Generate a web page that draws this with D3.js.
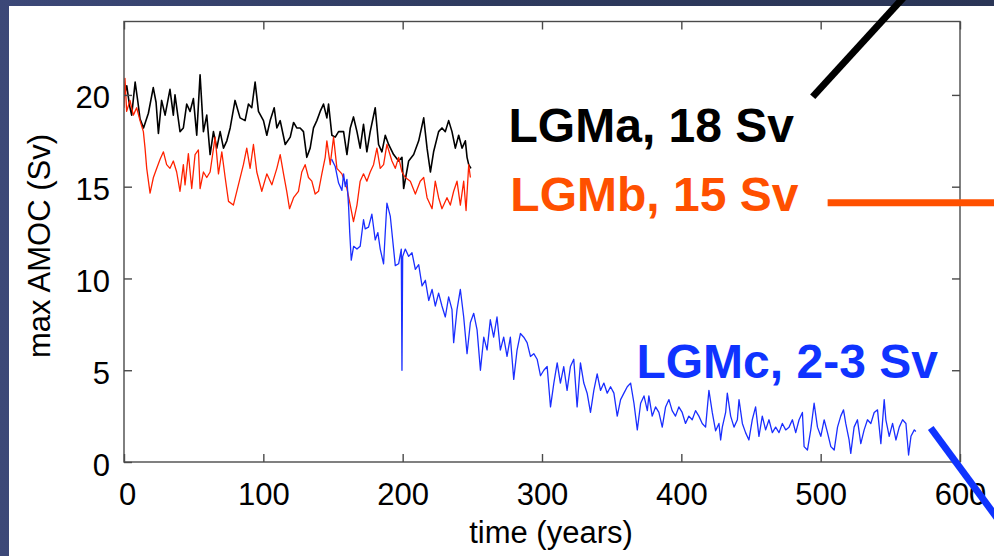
<!DOCTYPE html>
<html>
<head>
<meta charset="utf-8">
<script src="https://cdn.jsdelivr.net/npm/d3@7"></script>
<style>
  html, body { margin: 0; padding: 0; background: #2b3658; }
  svg { display: block; }
  text { font-family: "Liberation Sans", Arial, Helvetica, sans-serif; }
</style>
</head>
<body>
<svg id="chart" width="994" height="556"></svg>
<script>
// ---- data ----
const xTicks = [0, 100, 200, 300, 400, 500, 600];
const yTicks = [0, 5, 10, 15, 20];
const xLabel = "time (years)";
const yLabel = "max AMOC (Sv)";

const lgmaData = [[0,19.9],[2,20.5],[4,19.4],[5.5,18.9],[8,20.7],[10,19.6],[11.5,18.7],[14,18.2],[17.5,19.0],[21,20.4],[23,19.6],[24.7,17.9],[27,19.7],[29.5,18.9],[33,20.3],[35.4,18.9],[36.6,20.0],[40.2,18.0],[42.6,18.2],[45,19.5],[47.4,19.1],[49.8,19.8],[52.2,17.8],[54.6,21.1],[57,18.0],[59.4,18.9],[60.6,17.8],[61.8,16.75],[64.2,18.0],[66.6,17.1],[69,18.0],[71.4,17.1],[73.8,17.5],[76.2,18.2],[79.7,19.7],[83.3,18.75],[86.9,18.6],[89.3,19.5],[91.7,19.3],[94.1,20.7],[96.5,19.1],[100.1,18.6],[102.5,17.8],[104.9,18.6],[107.8,19.3],[109.7,18.2],[112.1,18.6],[115.7,17.3],[119.3,17.7],[121.7,18.5],[124,18.2],[126.4,18.2],[128.8,18.0],[131.2,16.6],[133.6,17.1],[136,18.2],[138.4,18.6],[140.8,19.1],[143.2,19.5],[145.6,18.75],[146.8,19.5],[149.2,17.8],[151.6,17.7],[154,18.0],[157.6,18.0],[160,16.75],[162.4,18.2],[164.7,18.8],[167.2,18.0],[169.5,17.1],[171.9,18.4],[174.3,16.9],[176.7,18.0],[180.3,19.3],[182.7,17.3],[185.1,16.9],[187.5,17.8],[189.9,17.3],[193.5,16.75],[197.1,16.4],[199.5,16.6],[200.7,14.9],[204.3,16.4],[207.9,16.75],[211.5,17.5],[215.1,18.75],[217.5,17.1],[219.9,15.8],[222.2,16.9],[225.8,18.0],[228.2,18.2],[230.6,18.0],[233,18.6],[235.4,18.0],[237.8,17.1],[240.2,17.8],[242.6,17.1],[245,17.5],[246.2,16.6],[247.4,16.2],[249,16.0]];

const lgmbData = [[0,19.3],[0.7,20.9],[1.9,19.1],[4.3,19.7],[6.7,18.9],[9.1,19.3],[11.5,18.6],[13.9,18.0],[15.1,17.1],[16.3,16.0],[18.7,14.65],[21.1,15.5],[23.5,16.0],[25.9,16.5],[28.3,16.9],[30.6,16.2],[33,16.0],[35.4,16.4],[37.8,15.8],[40.2,14.75],[42.6,16.2],[43.8,15.1],[46.2,16.8],[48.6,14.9],[51,16.75],[53.4,17.0],[54.6,14.9],[57,15.8],[59.4,15.5],[61.8,15.8],[65.4,17.7],[67.8,15.7],[70.2,16.9],[72.6,15.5],[75,14.2],[78.5,14.0],[82.1,15.1],[85.7,16.2],[88.1,17.1],[90.5,16.0],[92.9,17.3],[95.3,15.8],[98.9,14.75],[102.5,15.7],[106.1,15.1],[109.7,16.0],[112.1,16.75],[114.5,15.7],[116.8,14.75],[118.8,13.8],[121.7,14.4],[125.2,14.75],[127.6,15.8],[130,16.2],[132.4,15.5],[134.8,15.3],[137.2,14.6],[139.6,14.75],[142,15.7],[144.4,16.6],[145.6,17.5],[148,16.2],[150.4,17.7],[152.8,16.0],[156.4,15.7],[160,14.9],[162.4,14.0],[164.7,13.1],[167.2,14.0],[169.5,15.3],[171.9,15.7],[174.3,15.3],[176.7,15.8],[179.1,16.2],[181.5,17.1],[183.9,16.0],[186.3,16.2],[188.7,17.3],[192.3,16.4],[194.7,16.0],[197.1,16.6],[199.5,15.8],[201.9,15.5],[205.5,15.3],[209.1,14.6],[212.6,15.3],[215.1,15.5],[217.5,14.4],[221.1,13.8],[223.4,15.3],[225.8,14.4],[228.2,13.8],[231.8,14.4],[234.2,14.0],[236.6,14.75],[239,15.3],[241.4,14.0],[243.8,15.3],[245.5,13.7],[247.4,16.2],[248.6,15.5]];

const lgmcData = [[149,16.5],[151.6,16.1],[154,15.2],[156.4,14.8],[157.6,15.7],[158.8,15.0],[160,15.4],[161.2,13.9],[162,12.5],[163.1,11.0],[164.8,11.75],[167.2,11.6],[169.5,11.75],[171.9,13.2],[173.1,12.7],[175.5,12.8],[177.9,13.5],[180.3,12.1],[182.2,12.5],[183.9,11.6],[186.3,10.8],[187.5,12.5],[188.7,14.1],[191.1,13.4],[193.5,11.6],[194.7,10.7],[197.1,10.8],[199,11.6],[199.5,5.0],[200,11.2],[201.9,11.6],[204.3,11.2],[206.7,11.4],[209.1,10.5],[211.5,10.75],[213.9,9.6],[216.3,9.9],[218.7,8.8],[221.1,9.4],[223.4,8.5],[225.8,9.2],[228.2,8.5],[230.6,7.9],[233,9.0],[235.4,8.3],[236.6,6.5],[239,8.3],[241.4,9.4],[243.8,7.9],[246.2,5.9],[248.6,7.6],[251,8.1],[253.4,7.2],[255.8,5.0],[258.2,6.8],[260.6,6.1],[262.9,7.75],[265.3,6.8],[267.7,7.9],[270.1,6.1],[272.5,6.8],[274.9,5.75],[277.3,6.8],[279.7,4.5],[282.1,6.1],[284.5,7.0],[286.9,6.8],[289.3,6.5],[291.7,5.75],[294.1,5.9],[296.5,5.6],[298.9,4.7],[301.3,5.0],[303.7,5.2],[306.1,3.0],[308.5,4.3],[310.9,5.4],[313.2,4.3],[315.6,5.2],[318,3.9],[320.4,5.2],[322.8,5.6],[325.2,3.0],[327.6,5.4],[330,4.3],[332.4,3.75],[334.8,2.7],[337.2,3.9],[339.6,4.8],[342,3.9],[344.4,4.3],[346.8,3.75],[349.2,4.1],[351.6,3.75],[354,2.5],[356.4,3.4],[358.8,3.75],[361.2,4.1],[363.6,4.3],[366,3.2],[368.4,1.75],[370.8,3.2],[373.2,3.6],[375.6,2.8],[376.7,3.6],[379.1,2.5],[381.5,3.0],[383.9,2.7],[386.3,1.9],[388.7,3.0],[391.1,3.4],[393.4,2.8],[395.8,2.5],[398.2,3.0],[400.6,2.7],[403,2.1],[405.4,2.5],[407.8,2.3],[410.2,2.8],[412.6,2.5],[415,2.1],[417.4,1.9],[419.8,3.9],[422.2,2.7],[424.6,1.7],[427,2.1],[428.2,1.2],[429.4,1.9],[431.8,2.7],[433,3.75],[435.4,2.5],[437.8,1.9],[440.2,2.3],[441.4,3.4],[443.8,2.1],[446.1,1.6],[448.5,1.2],[450.9,2.3],[453.3,3.0],[455.7,1.4],[458.1,2.5],[460.5,1.75],[462.9,2.3],[465.3,1.6],[467.7,1.9],[470.1,1.6],[472.5,2.1],[474.9,1.75],[477.3,1.9],[479.7,2.3],[482.1,1.6],[484.5,2.3],[486.9,2.7],[488.1,0.84],[490.5,0.65],[492.9,1.75],[495.3,3.2],[497.7,1.9],[500.1,1.4],[502.5,2.3],[504.9,1.6],[507.3,0.84],[509.7,0.65],[512.1,1.9],[514.4,2.5],[516.4,2.84],[518,2.1],[520.4,1.2],[521.6,0.47],[524,1.9],[526.4,2.3],[528.8,1.0],[531.2,1.75],[533.6,2.3],[536,2.1],[538.4,2.7],[540.8,2.84],[543.2,1.0],[545.6,3.4],[546.8,2.3],[549.2,1.4],[551.6,2.1],[554,1.2],[556.4,1.9],[558.8,2.3],[561.2,2.1],[563.1,0.38],[564.8,1.4],[567.2,1.75],[568.3,1.66]];

// annotation labels: text, anchor point in data units (year, Sv)
const labels = [
  { text: "LGMa, 18 Sv", x: 276, y: 17.46 },
  { text: "LGMb, 15 Sv", x: 277.3, y: 13.7 },
  { text: "LGMc, 2-3 Sv", x: 367.8, y: 4.58 }
];
// annotation pointer lines in data units
const pointers = [
  { x1: 494.3, y1: 19.9, x2: 563, y2: 25.6 },
  { x1: 505, y1: 14.13, x2: 630, y2: 14.13 },
  { x1: 579, y1: 1.85, x2: 630, y2: -3.4 }
];

// ---- styles ----
const seriesColors = ["#000000", "#ff2200", "#1a2eff"];
const labelColors = ["#000000", "#ff5000", "#0f33ff"];

const W = 994, H = 556;
const svg = d3.select("#chart");

const defs = svg.append("defs");
const grad = defs.append("linearGradient").attr("id", "bg").attr("x1", "0").attr("y1", "0").attr("x2", "1").attr("y2", "0");
grad.append("stop").attr("offset", "0").attr("stop-color", "#3c4878");
grad.append("stop").attr("offset", "0.5").attr("stop-color", "#2e3a5e");
grad.append("stop").attr("offset", "1").attr("stop-color", "#2a3556");
svg.append("rect").attr("width", W).attr("height", H).attr("fill", "url(#bg)");
svg.append("rect").attr("x", 9).attr("y", 6).attr("width", W - 9).attr("height", H - 6).attr("fill", "#ffffff");

const x = d3.scaleLinear().domain([0, 600]).range([124, 960]);
const y = d3.scaleLinear().domain([0, 24]).range([462, 21.5]);

const clip = defs.append("clipPath").attr("id", "plotclip");
clip.append("rect").attr("x", 124).attr("y", 21.5).attr("width", 836).attr("height", 440.5);

// series
const line = d3.line().x(d => x(d[0])).y(d => y(d[1]));
const widths = [1.6, 1.3, 1.3];
[lgmaData, lgmbData, lgmcData].forEach((data, i) => {
  svg.append("path")
    .datum(data)
    .attr("clip-path", "url(#plotclip)")
    .attr("fill", "none")
    .attr("stroke", seriesColors[i])
    .attr("stroke-width", widths[i])
    .attr("stroke-linejoin", "round")
    .attr("d", line);
});

// frame
const frameColor = "#4a4a4a";
svg.append("rect")
  .attr("x", x(0)).attr("y", y(24))
  .attr("width", x(600) - x(0)).attr("height", y(0) - y(24))
  .attr("fill", "none").attr("stroke", frameColor).attr("stroke-width", 1.4);

const tickFont = 31;
const xAxis = d3.axisBottom(x).tickValues(xTicks).tickSize(-8).tickPadding(14).tickFormat(d3.format("d"));
const gx = svg.append("g").attr("transform", `translate(0,${y(0)})`).call(xAxis);
const gxt = svg.append("g").attr("transform", `translate(0,${y(24)})`).call(d3.axisTop(x).tickValues(xTicks).tickSize(-8).tickFormat(""));
const yAxis = d3.axisLeft(y).tickValues(yTicks).tickSize(-8).tickPadding(14).tickFormat(d3.format("d"));
const gy = svg.append("g").attr("transform", `translate(${x(0)},0)`).call(yAxis);
const gyr = svg.append("g").attr("transform", `translate(${x(600)},0)`).call(d3.axisRight(y).tickValues(yTicks).tickSize(-8).tickFormat(""));

[gx, gxt, gy, gyr].forEach(g => {
  g.select(".domain").remove();
  g.selectAll(".tick line").attr("stroke", frameColor).attr("stroke-width", 1.4);
  g.selectAll("text").attr("fill", "#000").attr("font-size", tickFont)
    .attr("font-family", "'Liberation Sans', Arial, Helvetica, sans-serif");
});
gx.selectAll("text").attr("dy", "0.71em").attr("y", 21);
gy.selectAll("text").attr("dy", "0.42em");
gx.selectAll(".tick").filter(d => d === 0).select("text").attr("dx", 3);

// axis labels
svg.append("text")
  .attr("x", 551).attr("y", 543)
  .attr("text-anchor", "middle")
  .attr("font-size", 31)
  .attr("fill", "#000")
  .text(xLabel);
svg.append("text")
  .attr("transform", "translate(50,246) rotate(-90)")
  .attr("text-anchor", "middle")
  .attr("font-size", 31)
  .attr("fill", "#000")
  .text(yLabel);

// annotation pointers
pointers.forEach((p, i) => {
  svg.append("line")
    .attr("x1", x(p.x1)).attr("y1", y(p.y1))
    .attr("x2", x(p.x2)).attr("y2", y(p.y2))
    .attr("stroke", labelColors[i])
    .attr("stroke-width", 7);
});

// annotation labels
labels.forEach((l, i) => {
  svg.append("text")
    .attr("x", x(l.x)).attr("y", y(l.y))
    .attr("font-size", 48)
    .attr("font-weight", "bold")
    .attr("fill", labelColors[i])
    .text(l.text);
});
</script>
</body>
</html>
